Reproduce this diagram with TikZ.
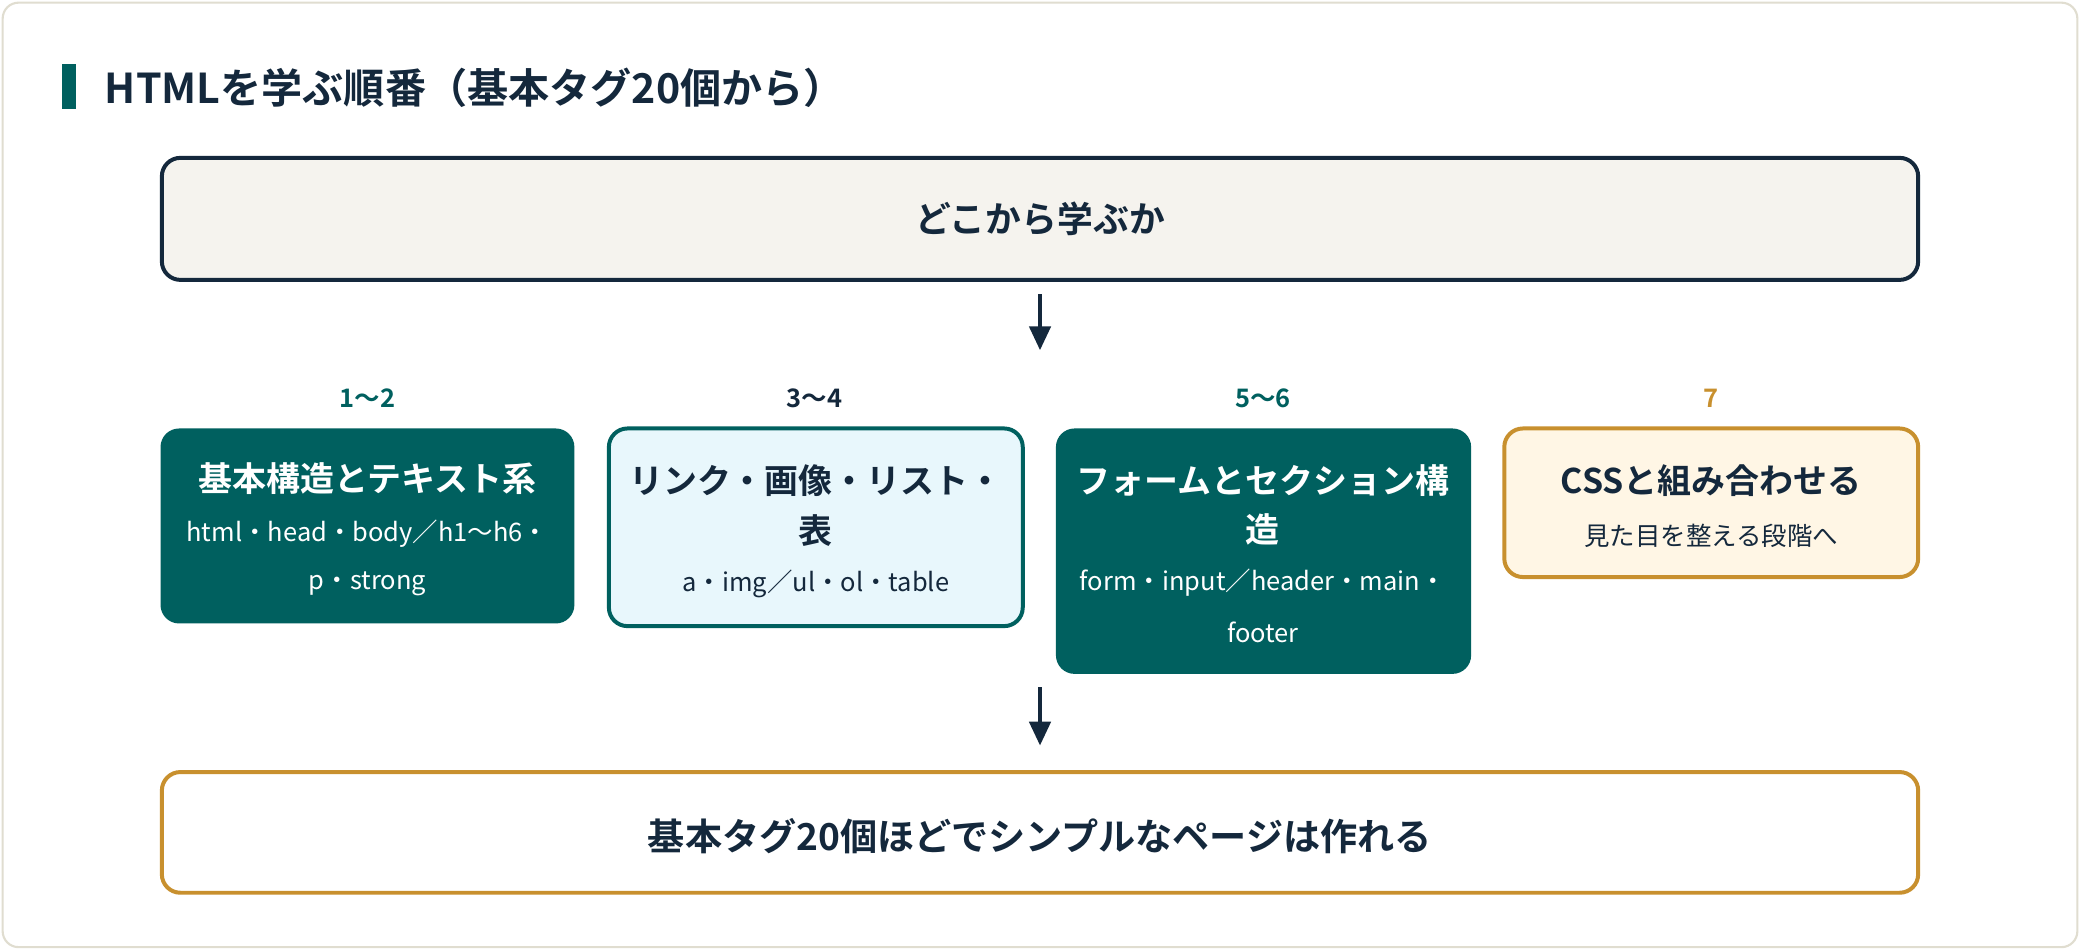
\documentclass[tikz,border=0pt]{standalone}
\usepackage{fontspec}
\setmainfont{Noto Sans CJK JP}[BoldFont={Noto Sans CJK JP Bold}]
\usetikzlibrary{arrows.meta}
\definecolor{navy}{HTML}{14283C}
\definecolor{teal}{HTML}{00605F}
\definecolor{orng}{HTML}{C8902E}
\definecolor{frame}{HTML}{E0DDD0}
\definecolor{topf}{HTML}{F5F3EE}
\definecolor{bluef}{HTML}{E8F7FC}
\definecolor{orngf}{HTML}{FFF6E5}
\begin{document}
\begin{tikzpicture}[x=0.5pt,y=-0.5pt,
  box/.style={rounded corners=7pt,line width=1.5pt},
  ttl/.style={font=\bfseries\fontsize{12.8}{15}\selectfont,anchor=center},
  sub/.style={font=\fontsize{9.6}{12}\selectfont,anchor=center},
  lbl/.style={font=\bfseries\fontsize{9.6}{12}\selectfont,anchor=center},
  arr/.style={-{Triangle[length=9pt,width=8pt]},line width=1.5pt,draw=navy}]
\useasboundingbox (0,0) rectangle (1568,716);
\draw[frame,fill=white,rounded corners=6pt,line width=0.8pt] (2,2) rectangle (1566,714);
\fill[teal] (47,48) rectangle (57,82);
\node[anchor=west,text=navy,font=\bfseries\fontsize{15.5}{18}\selectfont] (title) at (72,66) {HTMLを学ぶ順番（基本タグ20個から）};
% top box
\draw[box,draw=navy,fill=topf] (122,119) rectangle (1446,211);
\node[text=navy,font=\bfseries\fontsize{13.5}{16}\selectfont] (top) at (784,165) {どこから学ぶか};
\coordinate (a1s) at (784,222); \coordinate (a1e) at (784,264);
\draw[arr] (a1s) -- (a1e);
% labels
\node[lbl,text=teal] (l1) at (277,300) {1〜2};
\node[lbl,text=navy] (l2) at (614,300) {3〜4};
\node[lbl,text=teal] (l3) at (952,300) {5〜6};
\node[lbl,text=orng] (l4) at (1290,300) {7};
% box1
\fill[teal,rounded corners=7pt] (121,323) rectangle (433,470);
\node[ttl,text=white] (b1t) at (277,361) {基本構造とテキスト系};
\node[sub,text=white] (b1a) at (277,402) {html・head・body／h1〜h6・};
\node[sub,text=white] (b1b) at (277,440) {p・strong};
% box2
\draw[box,draw=teal,fill=bluef] (459,323) rectangle (771,472);
\node[ttl,text=navy] (b2t) at (615,362) {リンク・画像・リスト・};
\node[ttl,text=navy] (b2u) at (615,400) {表};
\node[sub,text=navy] (b2a) at (615,440) {a・img／ul・ol・table};
% box3
\fill[teal,rounded corners=7pt] (796,323) rectangle (1109,508);
\node[ttl,text=white] (b3t) at (952,362) {フォームとセクション構};
\node[ttl,text=white] (b3u) at (952,399) {造};
\node[sub,text=white] (b3a) at (952,439) {form・input／header・main・};
\node[sub,text=white] (b3b) at (952,477) {footer};
% box4
\draw[box,draw=orng,fill=orngf] (1134,323) rectangle (1446,435);
\node[ttl,text=navy] (b4t) at (1290,362) {CSSと組み合わせる};
\node[sub,text=navy] (b4a) at (1290,404) {見た目を整える段階へ};
\coordinate (a2s) at (784,518); \coordinate (a2e) at (784,562);
\draw[arr] (a2s) -- (a2e);
% bottom
\draw[box,draw=orng,fill=white] (122,582) rectangle (1446,673);
\node[text=navy,font=\bfseries\fontsize{14}{17}\selectfont] (bot) at (784,630) {基本タグ20個ほどでシンプルなページは作れる};
\end{tikzpicture}
\end{document}
